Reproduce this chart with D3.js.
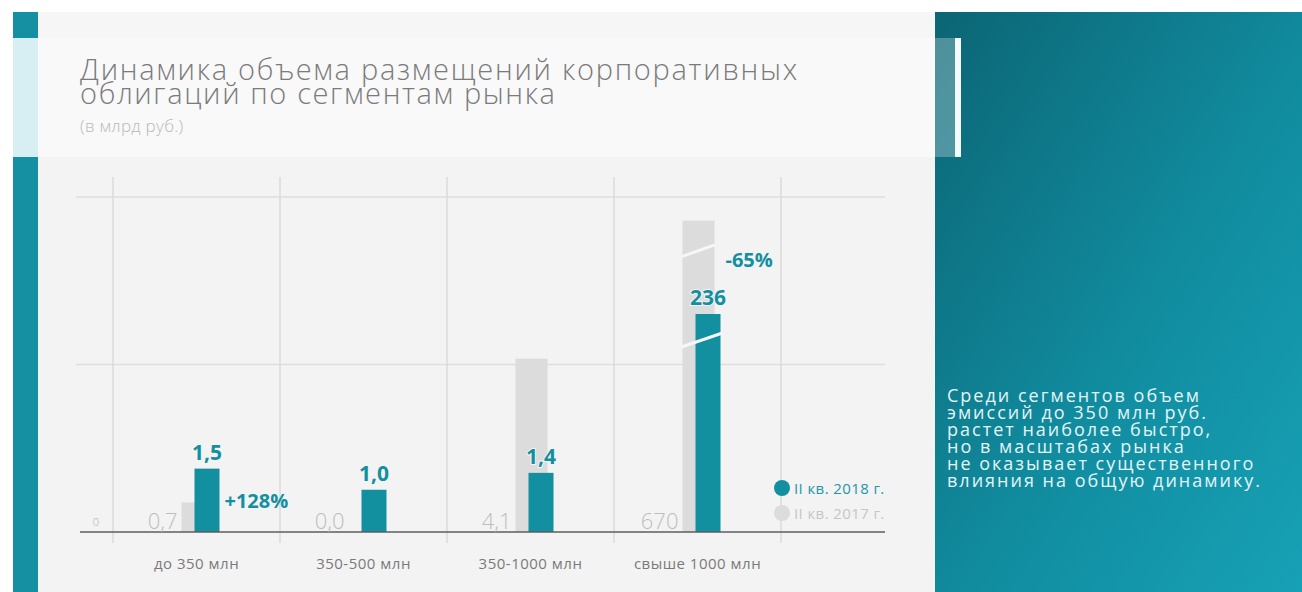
<!DOCTYPE html>
<html>
<head>
<meta charset="utf-8">
<script src="https://cdn.jsdelivr.net/npm/d3@7"></script>
<style>
  html, body { margin: 0; padding: 0; background: #ffffff; }
  svg { display: block; font-family: "Open Sans", "Noto Sans", sans-serif; }
</style>
</head>
<body>
<svg id="chart" width="1302" height="592"></svg>
<script>
// ---- data -------------------------------------------------------------
const categories = ["до 350 млн", "350-500 млн", "350-1000 млн", "свыше 1000 млн"];
const q2_2017 = [0.7, 0.0, 4.1, 670];      // млрд руб.
const q2_2018 = [1.5, 1.0, 1.4, 236];      // млрд руб.
const changeLabels = ["+128%", "", "", "-65%"];
const seriesNames = ["II кв. 2018 г.", "II кв. 2017 г."];
const titleLines = ["Динамика объема размещений корпоративных", "облигаций по сегментам рынка"];
const subtitleText = "(в млрд руб.)";
const noteLines = [
  "Среди сегментов объем",
  "эмиссий до 350 млн руб.",
  "растет наиболее быстро,",
  "но в масштабах рынка",
  "не оказывает существенного",
  "влияния на общую динамику."
];

// ---- palette ----------------------------------------------------------
const TEAL = "#13909f";
const GREY_BAR = "#dcdcdc";
const GREY_TEXT = "#bdbdbd";

const svg = d3.select("#chart");
const fmt = d3.formatLocale({ decimal: ",", thousands: "\u00a0", grouping: [3], currency: ["", ""] });
const fmtVal = v => v < 10 ? fmt.format(".1f")(v) : fmt.format(".0f")(v);

// stretch a line (text or tspan) to a given width through letter spacing
function fitWidth(sel, target) {
  sel.each(function () {
    const n = this.getNumberOfChars();
    const w = this.getComputedTextLength();
    if (n > 1) d3.select(this).attr("letter-spacing", ((target - w) / (n - 1)).toFixed(2));
  });
}

// ---- background panels ------------------------------------------------
const defs = svg.append("defs");
const grad = defs.append("linearGradient").attr("id", "panelGrad")
  .attr("x1", 0).attr("y1", 0).attr("x2", 1).attr("y2", 1);
grad.append("stop").attr("offset", "0%").attr("stop-color", "#0b6574");
grad.append("stop").attr("offset", "55%").attr("stop-color", "#118c9f");
grad.append("stop").attr("offset", "100%").attr("stop-color", "#17a1b6");

svg.append("rect").attr("x", 38).attr("y", 12).attr("width", 897).attr("height", 580).attr("fill", "#f3f3f3");
svg.append("rect").attr("x", 38).attr("y", 12).attr("width", 897).attr("height", 26).attr("fill", "#f6f6f6");
svg.append("rect").attr("x", 38).attr("y", 38).attr("width", 897).attr("height", 119).attr("fill", "#f9f9f9");

// left accent strip
svg.append("rect").attr("x", 13).attr("y", 12).attr("width", 25).attr("height", 580).attr("fill", "#1590a2");
svg.append("rect").attr("x", 13).attr("y", 38).attr("width", 25).attr("height", 119).attr("fill", "#d7eef2");

// right commentary panel
svg.append("rect").attr("x", 935).attr("y", 12).attr("width", 367).attr("height", 580).attr("fill", "url(#panelGrad)");
svg.append("rect").attr("x", 935).attr("y", 38).attr("width", 20).attr("height", 119).attr("fill", "#ffffff").attr("opacity", 0.28);
svg.append("rect").attr("x", 955).attr("y", 38).attr("width", 6).attr("height", 119).attr("fill", "#f4fbfc");

// ---- title ------------------------------------------------------------
const title = svg.append("text").attr("fill", "#7b7b7b").attr("font-weight", 300).attr("font-size", 29);
title.selectAll("tspan").data(titleLines).join("tspan")
  .attr("x", 80).attr("y", (d, i) => 80 + i * 24).text(d => d);
title.selectAll("tspan").filter((d, i) => i === 0).call(fitWidth, 717);
title.selectAll("tspan").filter((d, i) => i === 1).call(fitWidth, 475);
svg.append("text").attr("x", 80).attr("y", 132).attr("font-size", 17).attr("font-weight", 300)
  .attr("fill", "#b8b8b8").attr("letter-spacing", 0.3).text(subtitleText);

// ---- scales -----------------------------------------------------------
const plotLeft = 113, plotRight = 781, axisLeft = 80, axisRight = 885;
const plotTop = 197, plotBottom = 532;
const linearLimit = 5;               // above this the bars are drawn with a scale break
const pxPerUnit = 42.25;

const x = d3.scaleBand().domain(categories).range([plotLeft, plotRight]).paddingInner(0).paddingOuter(0);
const y = d3.scaleLinear()
  .domain([0, linearLimit, 236, 780])
  .range([plotBottom, plotBottom - linearLimit * pxPerUnit, 314, plotTop]);

const greyW = 32, tealW = 25;
const greyX = c => x(c) + x.bandwidth() / 2 - 15;
const tealX = c => x(c) + x.bandwidth() / 2 - 2;

// ---- grid -------------------------------------------------------------
const grid = svg.append("g");
grid.selectAll("line.h").data(d3.range(2)).join("line")
  .attr("x1", 76).attr("x2", axisRight)
  .attr("y1", i => plotTop + i * (plotBottom - plotTop) / 2)
  .attr("y2", i => plotTop + i * (plotBottom - plotTop) / 2)
  .attr("stroke", "#dedede").attr("stroke-width", 1.5);
const edges = categories.map(c => x(c)).concat([x.range()[1]]);
grid.selectAll("line.v").data(edges).join("line")
  .attr("x1", d => d).attr("x2", d => d)
  .attr("y1", 177).attr("y2", 543)
  .attr("stroke", "#d6d6d6").attr("stroke-width", 1.2);

// ---- bars -------------------------------------------------------------
const rows = categories.map((c, i) => ({ c, prev: q2_2017[i], cur: q2_2018[i], change: changeLabels[i] }));

svg.append("g").selectAll("rect").data(rows).join("rect")
  .attr("x", d => greyX(d.c)).attr("width", greyW)
  .attr("y", d => y(d.prev)).attr("height", d => y(0) - y(d.prev))
  .attr("fill", GREY_BAR);

svg.append("g").selectAll("rect").data(rows).join("rect")
  .attr("x", d => tealX(d.c)).attr("width", tealW)
  .attr("y", d => y(d.cur)).attr("height", d => y(0) - y(d.cur))
  .attr("fill", TEAL);

// scale-break slashes on bars exceeding the linear part of the scale
const breaks = svg.append("g").attr("stroke", "#f7f7f7").attr("stroke-width", 3);
rows.filter(d => d.prev > linearLimit).forEach(d => {
  const yb = y(d.prev) + 30;
  breaks.append("line")
    .attr("x1", greyX(d.c) - 1).attr("y1", yb + 6)
    .attr("x2", greyX(d.c) + greyW + 1).attr("y2", yb - 6);
});
rows.filter(d => d.cur > linearLimit).forEach(d => {
  const yb = y(d.cur) + 26;
  breaks.append("line")
    .attr("x1", greyX(d.c) - 1).attr("y1", yb + 7)
    .attr("x2", tealX(d.c) + tealW + 2).attr("y2", yb - 7);
});

// ---- axis -------------------------------------------------------------
svg.append("line").attr("x1", axisLeft).attr("x2", axisRight)
  .attr("y1", y(0)).attr("y2", y(0)).attr("stroke", "#5e5e5e").attr("stroke-width", 1.5);
svg.append("text").attr("x", 96).attr("y", y(0) - 6).attr("text-anchor", "middle")
  .attr("font-size", 11).attr("font-weight", 300).attr("fill", "#a8a8a8").text("0");

const xAxis = svg.append("g").attr("transform", `translate(0,${y(0)})`)
  .call(d3.axisBottom(x).tickSize(0).tickPadding(26));
xAxis.select(".domain").remove();
xAxis.selectAll("text").attr("font-family", "\"Open Sans\", sans-serif")
  .attr("font-size", 15).attr("letter-spacing", 0.5).attr("fill", "#7a7a7a");

// ---- value labels -----------------------------------------------------
svg.append("g").selectAll("text").data(rows).join("text")
  .attr("x", d => greyX(d.c) - 4).attr("y", y(0) - 3)
  .attr("text-anchor", "end").attr("font-size", 22).attr("font-weight", 300)
  .attr("fill", GREY_TEXT).text(d => fmtVal(d.prev));

svg.append("g").selectAll("text").data(rows).join("text")
  .attr("x", d => tealX(d.c) + tealW / 2).attr("y", d => y(d.cur) - 9)
  .attr("text-anchor", "middle").attr("font-size", 21).attr("font-weight", 700)
  .attr("fill", TEAL).attr("stroke", "#f3f3f3").attr("stroke-width", 2).attr("paint-order", "stroke")
  .text(d => fmtVal(d.cur));

svg.append("g").selectAll("text").data(rows.filter(d => d.change)).join("text")
  .attr("x", d => tealX(d.c) + tealW + 5)
  .attr("y", d => d.prev > linearLimit ? y(d.prev) + 46 : (y(d.cur) + y(0)) / 2 + 8)
  .attr("font-size", 20).attr("font-weight", 700).attr("fill", TEAL)
  .text(d => d.change);

// ---- legend -----------------------------------------------------------
const legend = svg.append("g").attr("transform", `translate(${x.range()[1] + 1},488)`);
[TEAL, GREY_BAR].forEach((col, i) => {
  legend.append("circle").attr("cx", 0).attr("cy", i * 25).attr("r", 8).attr("fill", col);
  legend.append("text").attr("x", 12).attr("y", i * 25 + 6)
    .attr("font-size", 15).attr("letter-spacing", 0.4).attr("fill", i === 0 ? "#2596a8" : "#c6c6c6")
    .text(seriesNames[i]);
});

// ---- commentary -------------------------------------------------------
const note = svg.append("text").attr("fill", "#e4f5f7").attr("font-size", 18);
const noteSpans = note.selectAll("tspan").data(noteLines).join("tspan")
  .attr("x", 947).attr("y", (d, i) => 402 + i * 17).text(d => d);
// one common spacing so the longest line spans the panel's text column
const longest = noteSpans.nodes().reduce((a, b) => a.getComputedTextLength() > b.getComputedTextLength() ? a : b);
const spacing = (313 - longest.getComputedTextLength()) / (longest.getNumberOfChars() - 1);
noteSpans.attr("letter-spacing", spacing.toFixed(2));
</script>
</body>
</html>
